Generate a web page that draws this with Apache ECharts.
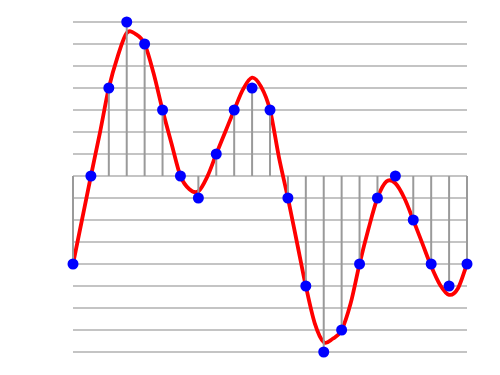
<!DOCTYPE html>
<html>
<head>
<meta charset="utf-8">
<script src="https://cdn.jsdelivr.net/npm/echarts@6/dist/echarts.min.js"></script>
<style>html,body{margin:0;padding:0;background:#fff}#c{width:500px;height:375px}</style>
</head>
<body>
<div id="c"></div>
<script>
// Sample index positions and quantized sample values
const sampleX = [0,1,2,3,4,5,6,7,8,9,10,11,12,13,14,15,16,17,18,19,20,21,22];
const sampleY = [-4,0,4,7,6,3,0,-1,1,3,4,3,-1,-5,-8,-7,-4,-1,0,-2,-4,-5,-4];
// Continuous signal (half-sample steps)
const signalX = [0,0.5,1,1.5,2,2.5,3,3.5,4,4.5,5,5.5,6,6.5,7,7.5,8,8.5,9,9.5,10,10.5,11,11.5,12,12.5,13,13.5,14,14.5,15,15.5,16,16.5,17,17.5,18,18.5,19,19.5,20,20.5,21,21.5,22];
const signalY = [-4,-2.0,0,1.95,4,5.45,6.5,6.45,6.0,4.67,3,1.48,0,-0.6,-0.7,-0.03,1,2.0,3,3.95,4.47,4.06,3,0.85,-1,-3.0,-5,-6.7,-7.55,-7.4,-7,-5.8,-4,-2.4,-1,-0.25,-0.33,-1.0,-2,-3.05,-4.1,-4.95,-5.4,-5.1,-4];

const chart = echarts.init(document.getElementById('c'), null, {renderer:'canvas'});

function renderSignal(params, api) {
  if (params.dataIndex !== 0) return null;
  const pts = signalX.map((x, i) => api.coord([x, signalY[i]]));
  const n = pts.length;
  const get = (i) => {
    if (i < 0) return [2*pts[0][0]-pts[1][0], 2*pts[0][1]-pts[1][1]];
    if (i >= n) return [2*pts[n-1][0]-pts[n-2][0], 2*pts[n-1][1]-pts[n-2][1]];
    return pts[i];
  };
  let d = 'M' + pts[0][0] + ' ' + pts[0][1];
  for (let i = 0; i < n - 1; i++) {
    const p0 = get(i-1), p1 = get(i), p2 = get(i+1), p3 = get(i+2);
    const c1 = [p1[0] + (p2[0]-p0[0])/6, p1[1] + (p2[1]-p0[1])/6];
    const c2 = [p2[0] - (p3[0]-p1[0])/6, p2[1] - (p3[1]-p1[1])/6];
    d += ' C' + c1[0] + ' ' + c1[1] + ' ' + c2[0] + ' ' + c2[1] + ' ' + p2[0] + ' ' + p2[1];
  }
  return {
    type: 'path',
    shape: { pathData: d },
    style: { fill: null, stroke: '#ff0000', lineWidth: 3.8, lineJoin: 'round', lineCap: 'round' }
  };
}

chart.setOption({
  animation:false,
  grid:{left:73,right:33,top:22,bottom:23},
  xAxis:{type:'value',min:0,max:22,interval:1,axisLine:{show:false},axisTick:{show:false},axisLabel:{show:false},splitLine:{show:false}},
  yAxis:{type:'value',min:-8,max:7,interval:1,axisLine:{show:false},axisTick:{show:false},axisLabel:{show:false},
    splitLine:{show:true,lineStyle:{color:'#c4c4c4',width:2}}},
  series:[
    {type:'custom',data:signalX.map((x,i)=>[x,signalY[i]]),renderItem:renderSignal,z:2,clip:false,
      encode:{x:0,y:1}},
    {type:'bar',data:sampleX.map((x,i)=>[x,sampleY[i]]),barWidth:2,z:3,
      itemStyle:{color:'#9a9a9a'}},
    {type:'scatter',data:sampleX.map((x,i)=>[x,sampleY[i]]),symbolSize:11,z:4,
      itemStyle:{color:'#0000ff',opacity:1}}
  ]
});
</script>
</body>
</html>
